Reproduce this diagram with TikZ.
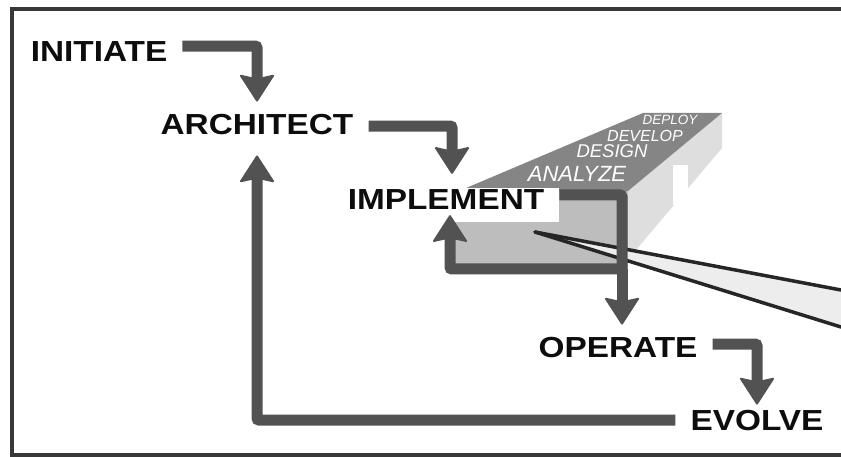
\documentclass[tikz,border=0pt]{standalone}
\usepackage{fontspec}
\newfontfamily\stagefont[FakeStretch=1.15]{Liberation Sans}
\newfontfamily\phasefont{Liberation Sans}
\usetikzlibrary{arrows.meta}

\begin{document}
\begin{tikzpicture}[
  x=1pt, y=-1pt,
  frame/.style={draw=black!78, line width=4pt},
  stage/.style={anchor=base, inner xsep=15pt, inner ysep=0pt, text=black!95, font=\stagefont\bfseries\fontsize{29}{29}\selectfont},
  phase/.style={anchor=base, inner sep=0pt, text=white, font=\phasefont\itshape},
  flow/.style={draw=black!68, line width=11pt, rounded corners=2pt, -{Stealth[length=28pt, width=36pt, inset=4pt, line width=2pt, round]}},
  pointer/.style={draw=black!85, line width=3.5pt, line cap=round}
]

\useasboundingbox (0,0) rectangle (841,457);

% Frame (open to the right)
\draw[frame] (841,9.5) -| (12,455) -- (841,455);

%% PHASE BOX
% Right face, top face, front face
\fill[black!13] (628,191) -- (722,113) -- (722,148) -- (636,250) -- (628,258) -- cycle;
\fill[black!48] (459,191) -- (643,113) -- (722,113) -- (628,191) -- cycle;
\fill[black!26] (453,191) rectangle (628,270);
\fill[white] (673,165) rectangle (688,205);

% Phases on the top face
\node[phase, font=\phasefont\itshape\fontsize{22}{22}\selectfont] (analyze) at (577,182) {ANALYZE};
\node[phase, font=\phasefont\itshape\fontsize{18.5}{18.5}\selectfont] (design) at (612,158) {DESIGN};
\node[phase, font=\phasefont\itshape\fontsize{16}{16}\selectfont] (develop) at (645,142) {DEVELOP};
\node[phase, font=\phasefont\itshape\fontsize{13.5}{13.5}\selectfont] (deploy) at (670,125) {DEPLOY};

% Call-out
\coordinate (ptr_apex) at (535,232);
\coordinate (ptr_top) at (841,290);
\coordinate (ptr_bot) at (841,327);
\fill[black!7] (ptr_apex) -- (ptr_top) -- (ptr_bot) -- cycle;
\draw[pointer] (ptr_apex) -- (ptr_top);
\draw[pointer] (ptr_apex) -- (ptr_bot);

%% STAGES
\node[stage] (initiate) at (99,62) {INITIATE};
\node[stage] (architect) at (257,135) {ARCHITECT};
\node[stage, fill=white, inner ysep=2pt, text depth=10pt] (implement) at (446,210) {IMPLEMENT};
\node[stage] (operate) at (618,357) {OPERATE};
\node[stage] (evolve) at (757,430) {EVOLVE};

%% FLOWS
\coordinate (box_split) at (622,269);

\draw[flow] ([yshift=6pt]initiate.east) -| ([yshift=13pt]architect.north);
\draw[flow] ([yshift=-1pt]architect.east) -| ([xshift=6pt,yshift=14pt]implement.north);

% Loop round the phase box
\draw[flow] ([yshift=15pt]implement.base east) -| (box_split) -| ([xshift=4pt,yshift=7pt]implement.south);
\draw[flow] (box_split) -- ([xshift=4pt,yshift=12pt]operate.north);

\draw[flow] ([yshift=3pt]operate.east) -| ([yshift=5pt]evolve.north);
\draw[flow] (evolve.west) -| ([yshift=-20pt]architect.south);

\end{tikzpicture}
\end{document}
